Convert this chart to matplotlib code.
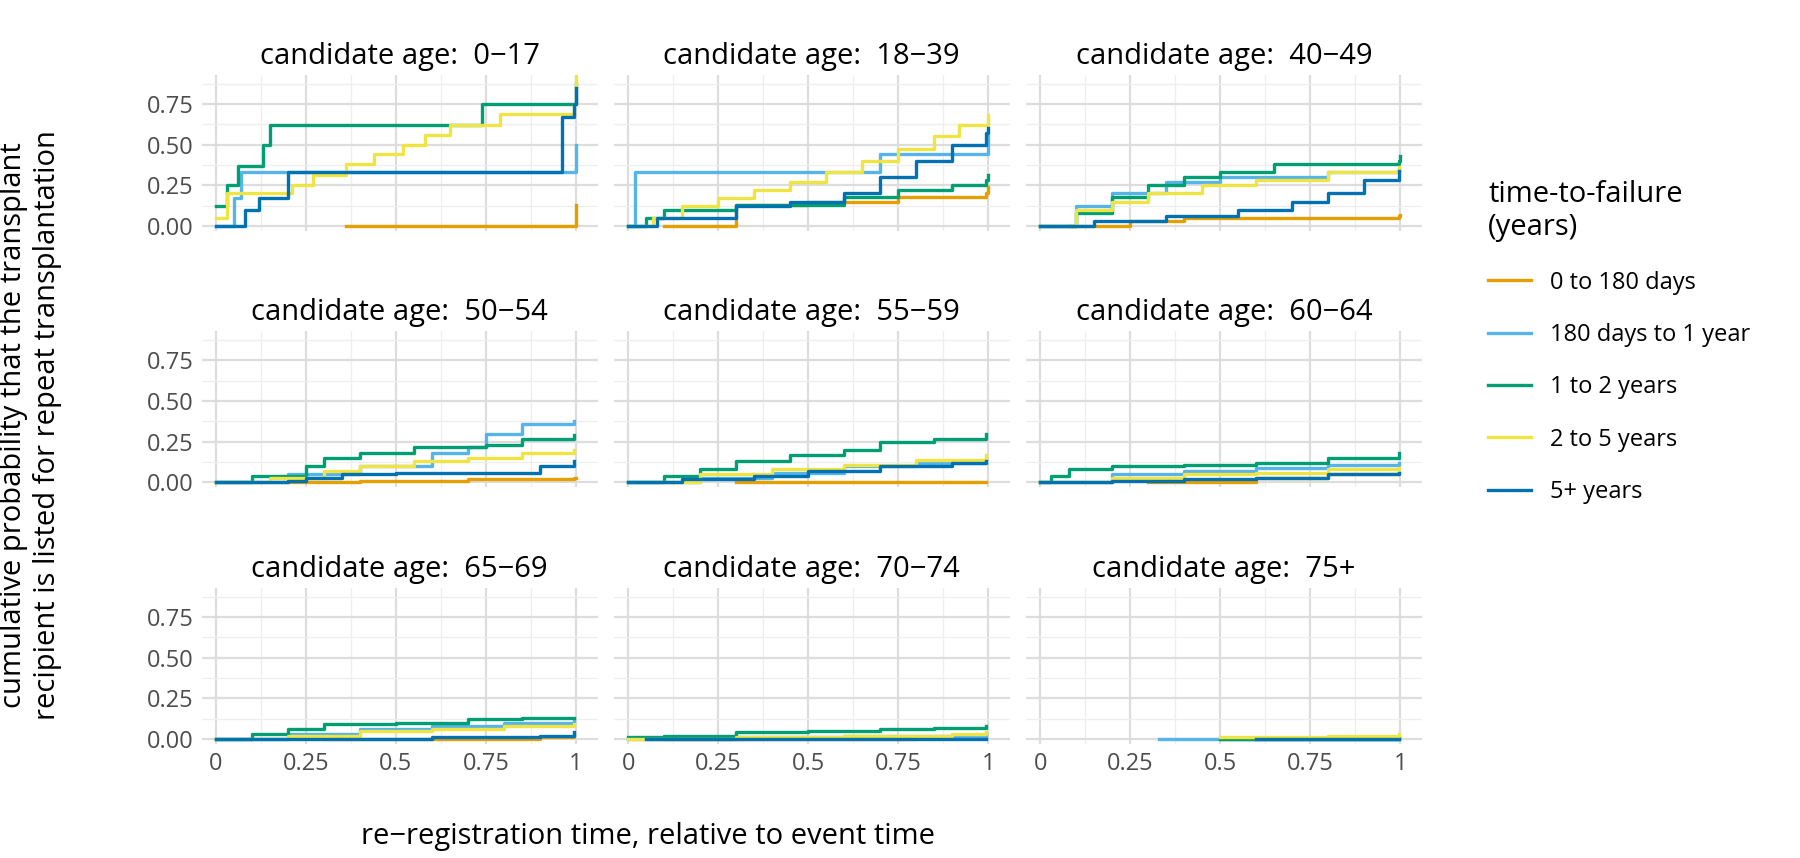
import matplotlib
matplotlib.use("Agg")
import matplotlib.pyplot as plt

plt.rcParams["font.family"] = "Open Sans"

panel_titles = ["candidate age:  0\u221217", "candidate age:  18\u221239", "candidate age:  40\u221249",
                "candidate age:  50\u221254", "candidate age:  55\u221259", "candidate age:  60\u221264",
                "candidate age:  65\u221269", "candidate age:  70\u221274", "candidate age:  75+"]
series_names = ["0 to 180 days", "180 days to 1 year", "1 to 2 years", "2 to 5 years", "5+ years"]
series_colors = ["#E69F00", "#56B4E9", "#009E73", "#F0E442", "#0072B2"]

# data[panel][series] = (x knots, y values), step-post
data = [
    [([0.36, 0.995, 1.0], [0, 0, 0.13]),
     ([0.0, 0.05, 0.07, 0.995, 1.0], [0, 0.17, 0.33, 0.33, 0.5]),
     ([0.0, 0.03, 0.06, 0.13, 0.15, 0.74, 0.995, 1.0], [0.12, 0.25, 0.37, 0.5, 0.62, 0.75, 0.75, 0.87]),
     ([0.0, 0.03, 0.21, 0.27, 0.36, 0.44, 0.52, 0.58, 0.65, 0.79, 0.995, 1.0],
      [0.05, 0.2, 0.25, 0.31, 0.38, 0.44, 0.5, 0.56, 0.62, 0.69, 0.75, 0.92]),
     ([0.0, 0.08, 0.12, 0.2, 0.96, 0.995, 1.0], [0, 0.1, 0.17, 0.33, 0.67, 0.75, 0.85])],
    [([0.1, 0.3, 0.5, 0.75, 0.995, 1.0], [0.0, 0.13, 0.15, 0.18, 0.2, 0.24]),
     ([0.0, 0.02, 0.7, 0.995, 1.0], [0.0, 0.33, 0.44, 0.44, 0.55]),
     ([0.0, 0.05, 0.1, 0.3, 0.6, 0.75, 0.9, 0.995, 1.0], [0.0, 0.05, 0.1, 0.13, 0.18, 0.22, 0.25, 0.28, 0.31]),
     ([0.0, 0.07, 0.15, 0.25, 0.35, 0.45, 0.55, 0.65, 0.75, 0.85, 0.92, 1.0],
      [0.0, 0.05, 0.12, 0.17, 0.22, 0.27, 0.33, 0.4, 0.47, 0.55, 0.62, 0.68]),
     ([0.0, 0.08, 0.3, 0.45, 0.6, 0.7, 0.8, 0.9, 0.995, 1.0], [0.0, 0.05, 0.12, 0.15, 0.2, 0.3, 0.4, 0.5, 0.57, 0.6])],
    [([0.08, 0.25, 0.4, 0.995, 1.0], [0.0, 0.03, 0.05, 0.06, 0.07]),
     ([0.0, 0.1, 0.2, 0.35, 0.5, 0.8, 0.995], [0.0, 0.12, 0.2, 0.27, 0.3, 0.33, 0.35]),
     ([0.0, 0.1, 0.2, 0.3, 0.4, 0.5, 0.65, 0.995, 1.0], [0.0, 0.08, 0.18, 0.25, 0.3, 0.33, 0.38, 0.4, 0.43]),
     ([0.0, 0.1, 0.2, 0.3, 0.45, 0.6, 0.8, 0.995], [0.0, 0.1, 0.15, 0.2, 0.25, 0.28, 0.33, 0.36]),
     ([0.0, 0.15, 0.35, 0.55, 0.7, 0.8, 0.9, 0.995], [0.0, 0.03, 0.06, 0.1, 0.15, 0.2, 0.28, 0.34])],
    [([0.2, 0.4, 0.7, 0.995, 1.0], [0.0, 0.01, 0.02, 0.03, 0.03]),
     ([0.0, 0.2, 0.4, 0.6, 0.7, 0.75, 0.85, 0.995], [0.0, 0.05, 0.1, 0.18, 0.22, 0.3, 0.36, 0.38]),
     ([0.0, 0.1, 0.25, 0.3, 0.4, 0.55, 0.75, 0.85, 0.995], [0.0, 0.04, 0.1, 0.15, 0.18, 0.22, 0.23, 0.27, 0.29]),
     ([0.0, 0.15, 0.3, 0.4, 0.55, 0.7, 0.85, 0.995], [0.0, 0.03, 0.07, 0.1, 0.13, 0.15, 0.18, 0.2]),
     ([0.0, 0.2, 0.25, 0.35, 0.5, 0.8, 0.9, 0.995], [0.0, 0.01, 0.03, 0.05, 0.06, 0.06, 0.1, 0.13])],
    [([0.3, 0.6, 0.995], [0.0, 0.0, 0.0]),
     ([0.0, 0.2, 0.4, 0.6, 0.8, 0.995], [0.0, 0.03, 0.06, 0.1, 0.12, 0.14]),
     ([0.0, 0.1, 0.2, 0.3, 0.45, 0.6, 0.7, 0.85, 0.995], [0.0, 0.04, 0.08, 0.13, 0.17, 0.2, 0.25, 0.27, 0.3]),
     ([0.0, 0.2, 0.4, 0.6, 0.8, 0.995], [0.0, 0.05, 0.08, 0.11, 0.14, 0.17]),
     ([0.0, 0.15, 0.35, 0.5, 0.7, 0.9, 0.995], [0.0, 0.02, 0.04, 0.07, 0.1, 0.12, 0.13])],
    [([0.3, 0.6, 0.8, 0.995], [0.0, 0.03, 0.05, 0.06]),
     ([0.0, 0.2, 0.4, 0.6, 0.8, 0.995], [0.0, 0.05, 0.07, 0.09, 0.11, 0.12]),
     ([0.0, 0.03, 0.08, 0.2, 0.4, 0.6, 0.8, 0.995], [0.0, 0.04, 0.08, 0.1, 0.11, 0.12, 0.15, 0.18]),
     ([0.0, 0.2, 0.4, 0.6, 0.8, 0.995], [0.0, 0.03, 0.05, 0.06, 0.08, 0.09]),
     ([0.0, 0.2, 0.4, 0.6, 0.8, 0.995], [0.0, 0.01, 0.02, 0.03, 0.05, 0.06])],
    [([0.3, 0.6, 0.9, 0.995], [0.0, 0.0, 0.01, 0.02]),
     ([0.0, 0.2, 0.4, 0.6, 0.8, 0.995], [0.0, 0.03, 0.06, 0.08, 0.1, 0.12]),
     ([0.0, 0.1, 0.2, 0.3, 0.5, 0.7, 0.85, 0.995], [0.0, 0.03, 0.06, 0.09, 0.1, 0.12, 0.13, 0.13]),
     ([0.0, 0.2, 0.4, 0.6, 0.8, 0.995], [0.0, 0.02, 0.05, 0.06, 0.08, 0.09]),
     ([0.0, 0.3, 0.6, 0.9, 0.995], [0.0, 0.0, 0.01, 0.02, 0.04])],
    [([0.1, 0.5, 0.8, 0.995], [0.0, 0.0, 0.01, 0.02]),
     ([0.0, 0.3, 0.6, 0.995], [0.0, 0.01, 0.02, 0.03]),
     ([0.0, 0.1, 0.3, 0.5, 0.7, 0.85, 0.995], [0.01, 0.02, 0.04, 0.05, 0.06, 0.07, 0.08]),
     ([0.0, 0.3, 0.6, 0.9, 0.995], [0.0, 0.01, 0.02, 0.03, 0.04]),
     ([0.05, 0.5, 0.9, 0.995], [0.0, 0.0, 0.0, 0.0])],
    [([0.5, 0.995], [0.0, 0.0]),
     ([0.33, 0.5, 0.995], [0.0, 0.0, 0.0]),
     ([0.5, 0.995], [0.0, 0.01]),
     ([0.5, 0.8, 0.995], [0.01, 0.02, 0.03]),
     ([0.6, 0.995], [0.0, 0.0])],
]

xticks = [0, 0.25, 0.5, 0.75, 1]
xticklabels = ["0", "0.25", "0.5", "0.75", "1"]
yticks = [0, 0.25, 0.5, 0.75]
yticklabels = ["0.00", "0.25", "0.50", "0.75"]

fig = plt.figure(figsize=(18, 8.58), dpi=100)
left0, colw, gapx = 0.112, 0.22, 0.009
rowh, tops = 0.182, [0.913, 0.614, 0.315]
axes = []
for i in range(9):
    r, c = divmod(i, 3)
    ax = fig.add_axes([left0 + c * (colw + gapx), tops[r] - rowh, colw, rowh])
    axes.append(ax)
    for (xs, ys), col, name in zip(data[i], series_colors, series_names):
        ax.step(xs, ys, where="post", color=col, lw=2.4, label=name)
    ax.set_xlim(-0.04, 1.06)
    ax.set_ylim(-0.03, 0.93)
    ax.set_xticks(xticks)
    ax.set_yticks(yticks)
    ax.set_xticks([0.125, 0.375, 0.625, 0.875], minor=True)
    ax.set_yticks([0.125, 0.375, 0.625, 0.875], minor=True)
    ax.grid(True, which="major", color="#DDDDDD", lw=1.6)
    ax.grid(True, which="minor", color="#EEEEEE", lw=0.9)
    ax.set_axisbelow(True)
    for s in ax.spines.values():
        s.set_visible(False)
    ax.tick_params(length=0, labelsize=17, colors="#4D4D4D", which="both", pad=6)
    if c == 0:
        ax.set_yticklabels(yticklabels)
    else:
        ax.set_yticklabels([])
    if r == 2:
        ax.set_xticklabels(xticklabels)
    else:
        ax.set_xticklabels([])
    ax.set_title(panel_titles[i], fontsize=21, pad=8)

fig.text(0.017, 0.505, "cumulative probability that the transplant\nrecipient is listed for repeat transplantation",
         rotation=90, ha="center", va="center", fontsize=21)
fig.text(0.36, 0.025, "re\u2212registration time, relative to event time", ha="center", va="center", fontsize=21)

handles, labels = axes[0].get_legend_handles_labels()
leg = fig.legend(handles, labels, loc="upper left", bbox_to_anchor=(0.815, 0.815),
                 title="time-to-failure\n(years)", frameon=False, fontsize=17,
                 title_fontsize=21, handlelength=1.8, labelspacing=1.2)
leg._legend_box.align = "left"

fig.savefig("out.png", dpi=100)
